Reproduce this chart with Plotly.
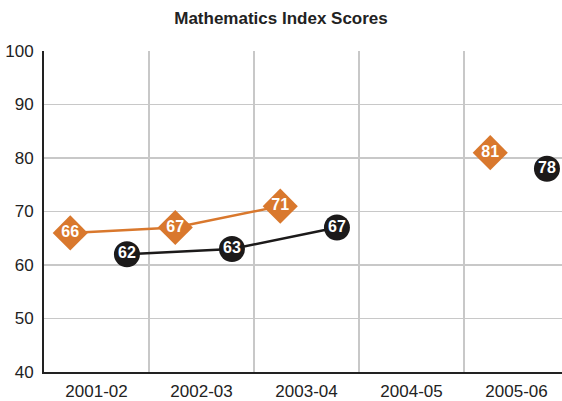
import plotly.graph_objects as go

categories = ["2001-02", "2002-03", "2003-04", "2004-05", "2005-06"]
orange_vals = [66, 67, 71, None, 81]
black_vals = [62, 63, 67, None, 78]
y_ticks = [40, 50, 60, 70, 80, 90, 100]

ORANGE = "#D9782D"
BLACK = "#1C1A1A"
FONT = "Liberation Sans, Arial"

idx = list(range(len(categories)))

fig = go.Figure()
fig.add_trace(go.Scatter(
    x=[i - 0.25 for i in idx], y=orange_vals, mode="lines+markers+text",
    line=dict(color=ORANGE, width=2.5),
    marker=dict(symbol="diamond", size=27, color=ORANGE),
    text=[str(v) if v is not None else "" for v in orange_vals],
    textposition="middle center",
    textfont=dict(color="white", size=16, family=FONT, weight="bold"),
    connectgaps=False, cliponaxis=False, showlegend=False, hoverinfo="skip"))
fig.add_trace(go.Scatter(
    x=[i + 0.29 for i in idx], y=black_vals, mode="lines+markers+text",
    line=dict(color=BLACK, width=2.5),
    marker=dict(symbol="circle", size=26, color=BLACK),
    text=[str(v) if v is not None else "" for v in black_vals],
    textposition="middle center",
    textfont=dict(color="white", size=16, family=FONT, weight="bold"),
    connectgaps=False, cliponaxis=False, showlegend=False, hoverinfo="skip"))

left_px, plot_w, band = 44, 562 - 44, 105
fig.update_layout(
    width=562, height=401,
    margin=dict(l=left_px, r=0, t=51, b=29, autoexpand=False),
    paper_bgcolor="white", plot_bgcolor="white",
    title=dict(text="<b>Mathematics Index Scores</b>", x=0.5, xanchor="center",
               y=1 - 18 / 401, yanchor="middle", automargin=False,
               font=dict(family=FONT, size=17, color="#222222")),
    font=dict(family=FONT, size=17, color="#333333"),
    xaxis=dict(
        range=[-0.5, -0.5 + plot_w / band], automargin=False,
        tickvals=idx, ticktext=categories, showgrid=False, zeroline=False,
        showline=True, linecolor="#222222", linewidth=2, ticks="",
        ticklabelstandoff=3,
        tickfont=dict(size=17, color="#222222"),
        minor=dict(tickvals=[i + 0.5 for i in idx], showgrid=True,
                   gridcolor="#C8C8C8", gridwidth=1.5, ticks=""),
    ),
    yaxis=dict(
        range=[40, 100], tickvals=y_ticks, showgrid=True, gridcolor="#C8C8C8",
        gridwidth=1.5, zeroline=False, showline=True, linecolor="#222222", linewidth=2,
        ticks="", ticklabelstandoff=5, automargin=False,
        tickfont=dict(size=17, color="#222222"),
    ),
)
fig.write_html(
    "out.html",
    config={"displayModeBar": False, "staticPlot": True},
    post_script="document.body.style.margin='0';document.body.style.overflow='hidden';",
)
